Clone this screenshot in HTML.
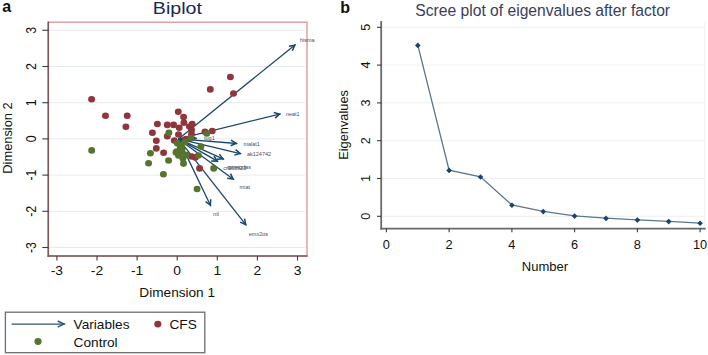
<!DOCTYPE html>
<html><head><meta charset="utf-8"><style>
html,body{margin:0;padding:0;background:#fff;}
body{width:708px;height:355px;overflow:hidden;}
svg{display:block;font-family:"Liberation Sans",sans-serif;}

</style></head><body>
<svg width="708" height="355" viewBox="0 0 708 355" fill="#111">
<rect width="708" height="355" fill="#fff"/>
<line x1="49.3" y1="247.5" x2="305" y2="247.5" stroke="rgb(229,236,238)" stroke-width="1"/>
<line x1="49.3" y1="211.3" x2="305" y2="211.3" stroke="rgb(229,236,238)" stroke-width="1"/>
<line x1="49.3" y1="175.1" x2="305" y2="175.1" stroke="rgb(229,236,238)" stroke-width="1"/>
<line x1="49.3" y1="138.9" x2="305" y2="138.9" stroke="rgb(229,236,238)" stroke-width="1"/>
<line x1="49.3" y1="102.7" x2="305" y2="102.7" stroke="rgb(229,236,238)" stroke-width="1"/>
<line x1="49.3" y1="66.5" x2="305" y2="66.5" stroke="rgb(229,236,238)" stroke-width="1"/>
<line x1="49.3" y1="30.3" x2="305" y2="30.3" stroke="rgb(229,236,238)" stroke-width="1"/>
<rect x="48.3" y="22.2" width="258.7" height="233.8" fill="none" stroke="rgb(214,150,150)" stroke-width="1.3"/>
<line x1="48.3" y1="21.599999999999998" x2="48.3" y2="257" stroke="rgb(125,88,92)" stroke-width="1.6"/>
<line x1="47.5" y1="256" x2="307.6" y2="256" stroke="rgb(125,88,92)" stroke-width="1.6"/>
<line x1="42.3" y1="247.5" x2="48.3" y2="247.5" stroke="rgb(60,60,60)" stroke-width="1.1"/>
<line x1="56.9" y1="256" x2="56.9" y2="260.6" stroke="rgb(60,60,60)" stroke-width="1.1"/>
<line x1="42.3" y1="211.3" x2="48.3" y2="211.3" stroke="rgb(60,60,60)" stroke-width="1.1"/>
<line x1="97.0" y1="256" x2="97.0" y2="260.6" stroke="rgb(60,60,60)" stroke-width="1.1"/>
<line x1="42.3" y1="175.1" x2="48.3" y2="175.1" stroke="rgb(60,60,60)" stroke-width="1.1"/>
<line x1="137.1" y1="256" x2="137.1" y2="260.6" stroke="rgb(60,60,60)" stroke-width="1.1"/>
<line x1="42.3" y1="138.9" x2="48.3" y2="138.9" stroke="rgb(60,60,60)" stroke-width="1.1"/>
<line x1="177.2" y1="256" x2="177.2" y2="260.6" stroke="rgb(60,60,60)" stroke-width="1.1"/>
<line x1="42.3" y1="102.7" x2="48.3" y2="102.7" stroke="rgb(60,60,60)" stroke-width="1.1"/>
<line x1="217.3" y1="256" x2="217.3" y2="260.6" stroke="rgb(60,60,60)" stroke-width="1.1"/>
<line x1="42.3" y1="66.5" x2="48.3" y2="66.5" stroke="rgb(60,60,60)" stroke-width="1.1"/>
<line x1="257.4" y1="256" x2="257.4" y2="260.6" stroke="rgb(60,60,60)" stroke-width="1.1"/>
<line x1="42.3" y1="30.3" x2="48.3" y2="30.3" stroke="rgb(60,60,60)" stroke-width="1.1"/>
<line x1="297.5" y1="256" x2="297.5" y2="260.6" stroke="rgb(60,60,60)" stroke-width="1.1"/>
<text transform="translate(56.9,274.8) scale(1.12,1)" text-anchor="middle" font-size="12.4">-3</text>
<text transform="translate(35.6,247.5) scale(1.12,1) rotate(-90)" text-anchor="middle" font-size="12.4">-3</text>
<text transform="translate(97.0,274.8) scale(1.12,1)" text-anchor="middle" font-size="12.4">-2</text>
<text transform="translate(35.6,211.3) scale(1.12,1) rotate(-90)" text-anchor="middle" font-size="12.4">-2</text>
<text transform="translate(137.1,274.8) scale(1.12,1)" text-anchor="middle" font-size="12.4">-1</text>
<text transform="translate(35.6,175.1) scale(1.12,1) rotate(-90)" text-anchor="middle" font-size="12.4">-1</text>
<text transform="translate(177.2,274.8) scale(1.12,1)" text-anchor="middle" font-size="12.4">0</text>
<text transform="translate(35.6,138.9) scale(1.12,1) rotate(-90)" text-anchor="middle" font-size="12.4">0</text>
<text transform="translate(217.3,274.8) scale(1.12,1)" text-anchor="middle" font-size="12.4">1</text>
<text transform="translate(35.6,102.7) scale(1.12,1) rotate(-90)" text-anchor="middle" font-size="12.4">1</text>
<text transform="translate(257.4,274.8) scale(1.12,1)" text-anchor="middle" font-size="12.4">2</text>
<text transform="translate(35.6,66.5) scale(1.12,1) rotate(-90)" text-anchor="middle" font-size="12.4">2</text>
<text transform="translate(297.5,274.8) scale(1.12,1)" text-anchor="middle" font-size="12.4">3</text>
<text transform="translate(35.6,30.3) scale(1.12,1) rotate(-90)" text-anchor="middle" font-size="12.4">3</text>
<text transform="translate(177.2,297.2) scale(1.10,1)" text-anchor="middle" font-size="12.4">Dimension 1</text>
<text transform="translate(11.5,138.0) scale(1.04,1) rotate(-90)" text-anchor="middle" font-size="12.85">Dimension 2</text>
<text transform="translate(177.4,14.0) scale(1.13,1)" text-anchor="middle" font-size="17.4" fill="rgb(32,38,82)">Biplot</text>
<text x="2.2" y="12.2" font-size="16" font-weight="bold">a</text>
<line x1="178.5" y1="138.9" x2="295.6" y2="44.5" stroke="rgb(26,71,111)" stroke-width="1.3"/><polyline points="292.4,50.7 294.7,45.2 288.9,46.3" fill="none" stroke="rgb(26,71,111)" stroke-width="1.5" stroke-linejoin="miter"/>
<line x1="178.5" y1="138.9" x2="280.6" y2="113.8" stroke="rgb(26,71,111)" stroke-width="1.3"/><polyline points="275.1,118.1 279.5,114.1 273.7,112.6" fill="none" stroke="rgb(26,71,111)" stroke-width="1.5" stroke-linejoin="miter"/>
<line x1="178.5" y1="138.9" x2="196.8" y2="138.3" stroke="rgb(26,71,111)" stroke-width="1.3"/><polyline points="190.5,141.3 195.7,138.3 190.3,135.7" fill="none" stroke="rgb(26,71,111)" stroke-width="1.5" stroke-linejoin="miter"/>
<line x1="178.5" y1="138.9" x2="237.2" y2="143.5" stroke="rgb(26,71,111)" stroke-width="1.3"/><polyline points="230.6,145.8 236.1,143.4 231.0,140.2" fill="none" stroke="rgb(26,71,111)" stroke-width="1.5" stroke-linejoin="miter"/>
<line x1="178.5" y1="138.9" x2="241.2" y2="153.8" stroke="rgb(26,71,111)" stroke-width="1.3"/><polyline points="234.3,155.1 240.1,153.5 235.6,149.6" fill="none" stroke="rgb(26,71,111)" stroke-width="1.5" stroke-linejoin="miter"/>
<line x1="178.5" y1="138.9" x2="224.0" y2="159.3" stroke="rgb(26,71,111)" stroke-width="1.3"/><polyline points="217.0,159.3 223.0,158.8 219.3,154.1" fill="none" stroke="rgb(26,71,111)" stroke-width="1.5" stroke-linejoin="miter"/>
<line x1="178.5" y1="138.9" x2="218.2" y2="161.6" stroke="rgb(26,71,111)" stroke-width="1.3"/><polyline points="211.2,160.9 217.2,161.1 214.0,156.0" fill="none" stroke="rgb(26,71,111)" stroke-width="1.5" stroke-linejoin="miter"/>
<line x1="178.5" y1="138.9" x2="234.0" y2="179.8" stroke="rgb(26,71,111)" stroke-width="1.3"/><polyline points="227.2,178.3 233.1,179.1 230.5,173.7" fill="none" stroke="rgb(26,71,111)" stroke-width="1.5" stroke-linejoin="miter"/>
<line x1="178.5" y1="138.9" x2="210.9" y2="206.2" stroke="rgb(26,71,111)" stroke-width="1.3"/><polyline points="205.6,201.7 210.4,205.2 210.7,199.2" fill="none" stroke="rgb(26,71,111)" stroke-width="1.5" stroke-linejoin="miter"/>
<line x1="178.5" y1="138.9" x2="246.3" y2="225.4" stroke="rgb(26,71,111)" stroke-width="1.3"/><polyline points="240.1,222.1 245.6,224.5 244.6,218.6" fill="none" stroke="rgb(26,71,111)" stroke-width="1.5" stroke-linejoin="miter"/>
<ellipse cx="91.6" cy="99.3" rx="3.45" ry="3.3" fill="rgb(144,53,59)"/>
<ellipse cx="105.5" cy="115.7" rx="3.45" ry="3.3" fill="rgb(144,53,59)"/>
<ellipse cx="127.2" cy="115.7" rx="3.45" ry="3.3" fill="rgb(144,53,59)"/>
<ellipse cx="125.9" cy="126.8" rx="3.45" ry="3.3" fill="rgb(144,53,59)"/>
<ellipse cx="157.4" cy="124.0" rx="3.45" ry="3.3" fill="rgb(144,53,59)"/>
<ellipse cx="152.4" cy="132.7" rx="3.45" ry="3.3" fill="rgb(144,53,59)"/>
<ellipse cx="167.3" cy="124.9" rx="3.45" ry="3.3" fill="rgb(144,53,59)"/>
<ellipse cx="173.6" cy="124.9" rx="3.45" ry="3.3" fill="rgb(144,53,59)"/>
<ellipse cx="179.2" cy="127.7" rx="3.45" ry="3.3" fill="rgb(144,53,59)"/>
<ellipse cx="178.3" cy="111.8" rx="3.45" ry="3.3" fill="rgb(144,53,59)"/>
<ellipse cx="183.6" cy="117.1" rx="3.45" ry="3.3" fill="rgb(144,53,59)"/>
<ellipse cx="183.9" cy="122.7" rx="3.45" ry="3.3" fill="rgb(144,53,59)"/>
<ellipse cx="192.2" cy="124.0" rx="3.45" ry="3.3" fill="rgb(144,53,59)"/>
<ellipse cx="189.4" cy="126.5" rx="3.45" ry="3.3" fill="rgb(144,53,59)"/>
<ellipse cx="191.5" cy="129.9" rx="3.45" ry="3.3" fill="rgb(144,53,59)"/>
<ellipse cx="191.5" cy="134.3" rx="3.45" ry="3.3" fill="rgb(144,53,59)"/>
<ellipse cx="178.5" cy="134.5" rx="3.45" ry="3.3" fill="rgb(144,53,59)"/>
<ellipse cx="167.3" cy="136.2" rx="3.45" ry="3.3" fill="rgb(144,53,59)"/>
<ellipse cx="156.3" cy="140.8" rx="3.45" ry="3.3" fill="rgb(144,53,59)"/>
<ellipse cx="156.3" cy="148.4" rx="3.45" ry="3.3" fill="rgb(144,53,59)"/>
<ellipse cx="163.6" cy="152.7" rx="3.45" ry="3.3" fill="rgb(144,53,59)"/>
<ellipse cx="174.3" cy="140.5" rx="3.45" ry="3.3" fill="rgb(144,53,59)"/>
<ellipse cx="205" cy="131.8" rx="3.45" ry="3.3" fill="rgb(144,53,59)"/>
<ellipse cx="212.2" cy="131" rx="3.45" ry="3.3" fill="rgb(144,53,59)"/>
<ellipse cx="210.3" cy="89.4" rx="3.45" ry="3.3" fill="rgb(144,53,59)"/>
<ellipse cx="230.4" cy="77" rx="3.45" ry="3.3" fill="rgb(144,53,59)"/>
<ellipse cx="233.5" cy="93.5" rx="3.45" ry="3.3" fill="rgb(144,53,59)"/>
<ellipse cx="191.6" cy="156.5" rx="3.45" ry="3.3" fill="rgb(144,53,59)"/>
<ellipse cx="195.3" cy="157.4" rx="3.45" ry="3.3" fill="rgb(144,53,59)"/>
<ellipse cx="199.6" cy="168.4" rx="3.45" ry="3.3" fill="rgb(144,53,59)"/>
<ellipse cx="186" cy="139" rx="3.45" ry="3.3" fill="rgb(144,53,59)"/>
<ellipse cx="91.7" cy="150.4" rx="3.45" ry="3.3" fill="rgb(85,117,47)"/>
<ellipse cx="168.9" cy="132.7" rx="3.45" ry="3.3" fill="rgb(85,117,47)"/>
<ellipse cx="150.4" cy="153.2" rx="3.45" ry="3.3" fill="rgb(85,117,47)"/>
<ellipse cx="148.6" cy="163.2" rx="3.45" ry="3.3" fill="rgb(85,117,47)"/>
<ellipse cx="168.6" cy="160.5" rx="3.45" ry="3.3" fill="rgb(85,117,47)"/>
<ellipse cx="163.4" cy="174.3" rx="3.45" ry="3.3" fill="rgb(85,117,47)"/>
<ellipse cx="197.1" cy="189" rx="3.45" ry="3.3" fill="rgb(85,117,47)"/>
<ellipse cx="213.7" cy="168.4" rx="3.45" ry="3.3" fill="rgb(85,117,47)"/>
<ellipse cx="200.9" cy="146.6" rx="3.45" ry="3.3" fill="rgb(85,117,47)"/>
<ellipse cx="198.4" cy="155.5" rx="3.45" ry="3.3" fill="rgb(85,117,47)"/>
<ellipse cx="206.8" cy="133.5" rx="3.45" ry="3.3" fill="rgb(85,117,47)"/>
<ellipse cx="177.3" cy="143.3" rx="3.45" ry="3.3" fill="rgb(85,117,47)"/>
<ellipse cx="184.8" cy="142.3" rx="3.45" ry="3.3" fill="rgb(85,117,47)"/>
<ellipse cx="191" cy="138" rx="3.45" ry="3.3" fill="rgb(85,117,47)"/>
<ellipse cx="180.4" cy="147.9" rx="3.45" ry="3.3" fill="rgb(85,117,47)"/>
<ellipse cx="176.7" cy="151.6" rx="3.45" ry="3.3" fill="rgb(85,117,47)"/>
<ellipse cx="176" cy="152.4" rx="3.45" ry="3.3" fill="rgb(85,117,47)"/>
<ellipse cx="178.5" cy="155.5" rx="3.45" ry="3.3" fill="rgb(85,117,47)"/>
<ellipse cx="182.9" cy="158.6" rx="3.45" ry="3.3" fill="rgb(85,117,47)"/>
<ellipse cx="183.5" cy="163.6" rx="3.45" ry="3.3" fill="rgb(85,117,47)"/>
<ellipse cx="179.8" cy="145" rx="3.45" ry="3.3" fill="rgb(85,117,47)"/>
<ellipse cx="182.2" cy="148.7" rx="3.45" ry="3.3" fill="rgb(85,117,47)"/>
<ellipse cx="186" cy="154.9" rx="3.45" ry="3.3" fill="rgb(85,117,47)"/>
<ellipse cx="181.5" cy="152.2" rx="3.45" ry="3.3" fill="rgb(85,117,47)"/>
<text x="300" y="41.8" font-size="5.5" fill="rgb(70,80,100)">hisma</text>
<text x="285.9" y="116" font-size="5.5" fill="rgb(70,80,100)">neat1</text>
<text x="204" y="139.9" font-size="5.5" fill="rgb(70,80,100)">tug1</text>
<text x="243.4" y="146" font-size="5.5" fill="rgb(70,80,100)">malat1</text>
<text x="246.9" y="156.2" font-size="5.5" fill="rgb(70,80,100)">ak124742</text>
<text x="227.2" y="168.6" font-size="5.5" fill="rgb(70,80,100)">gpseqdas</text>
<text x="223.3" y="169.6" font-size="5.5" fill="rgb(70,80,100)">cr963923</text>
<text x="239.6" y="189.2" font-size="5.5" fill="rgb(70,80,100)">miat</text>
<text x="213.1" y="216.4" font-size="5.5" fill="rgb(70,80,100)">ntl</text>
<text x="248.8" y="235.9" font-size="5.5" fill="rgb(70,80,100)">emx2os</text>
<rect x="5.4" y="312.2" width="199.4" height="40.5" fill="none" stroke="rgb(110,110,110)" stroke-width="1.3"/>
<line x1="11.6" y1="324.1" x2="65.1" y2="324.1" stroke="rgb(45,85,120)" stroke-width="1.2"/><polyline points="57.7,327.2 64.0,324.1 57.7,321.0" fill="none" stroke="rgb(45,85,120)" stroke-width="1.4" stroke-linejoin="miter"/>
<ellipse cx="157.8" cy="324.1" rx="3.6" ry="3.4" fill="rgb(144,53,59)"/>
<ellipse cx="38" cy="341.5" rx="3.6" ry="3.4" fill="rgb(85,117,47)"/>
<text transform="translate(73.6,328.6) scale(1.12,1)" font-size="12.2">Variables</text>
<text transform="translate(169.5,328.6) scale(1.12,1)" font-size="12.2">CFS</text>
<text transform="translate(73.6,346.6) scale(1.12,1)" font-size="12.2">Control</text>
<line x1="382.2" y1="216.3" x2="705.7" y2="216.3" stroke="rgb(236,240,243)" stroke-width="1"/>
<line x1="382.2" y1="178.5" x2="705.7" y2="178.5" stroke="rgb(236,240,243)" stroke-width="1"/>
<line x1="382.2" y1="140.7" x2="705.7" y2="140.7" stroke="rgb(236,240,243)" stroke-width="1"/>
<line x1="382.2" y1="102.9" x2="705.7" y2="102.9" stroke="rgb(236,240,243)" stroke-width="1"/>
<line x1="382.2" y1="65.1" x2="705.7" y2="65.1" stroke="rgb(236,240,243)" stroke-width="1"/>
<line x1="382.2" y1="27.3" x2="705.7" y2="27.3" stroke="rgb(236,240,243)" stroke-width="1"/>
<line x1="704.6" y1="22" x2="704.6" y2="228" stroke="rgb(240,243,245)" stroke-width="1"/>
<line x1="381.2" y1="21" x2="381.2" y2="229.6" stroke="rgb(105,105,105)" stroke-width="1.8"/>
<line x1="380.3" y1="228.6" x2="705.8" y2="228.6" stroke="rgb(105,105,105)" stroke-width="1.8"/>
<line x1="377" y1="216.3" x2="381.2" y2="216.3" stroke="rgb(60,60,60)" stroke-width="1.1"/>
<text transform="translate(370.3,216.3) rotate(-90)" text-anchor="middle" font-size="12.6">0</text>
<line x1="377" y1="178.5" x2="381.2" y2="178.5" stroke="rgb(60,60,60)" stroke-width="1.1"/>
<text transform="translate(370.3,178.5) rotate(-90)" text-anchor="middle" font-size="12.6">1</text>
<line x1="377" y1="140.7" x2="381.2" y2="140.7" stroke="rgb(60,60,60)" stroke-width="1.1"/>
<text transform="translate(370.3,140.7) rotate(-90)" text-anchor="middle" font-size="12.6">2</text>
<line x1="377" y1="102.9" x2="381.2" y2="102.9" stroke="rgb(60,60,60)" stroke-width="1.1"/>
<text transform="translate(370.3,102.9) rotate(-90)" text-anchor="middle" font-size="12.6">3</text>
<line x1="377" y1="65.1" x2="381.2" y2="65.1" stroke="rgb(60,60,60)" stroke-width="1.1"/>
<text transform="translate(370.3,65.1) rotate(-90)" text-anchor="middle" font-size="12.6">4</text>
<line x1="377" y1="27.3" x2="381.2" y2="27.3" stroke="rgb(60,60,60)" stroke-width="1.1"/>
<text transform="translate(370.3,27.3) rotate(-90)" text-anchor="middle" font-size="12.6">5</text>
<line x1="386.4" y1="228.6" x2="386.4" y2="232.3" stroke="rgb(60,60,60)" stroke-width="1.1"/>
<text transform="translate(386.4,249.1) scale(0.97,1)" text-anchor="middle" font-size="13.2">0</text>
<line x1="449.1" y1="228.6" x2="449.1" y2="232.3" stroke="rgb(60,60,60)" stroke-width="1.1"/>
<text transform="translate(449.1,249.1) scale(0.97,1)" text-anchor="middle" font-size="13.2">2</text>
<line x1="511.9" y1="228.6" x2="511.9" y2="232.3" stroke="rgb(60,60,60)" stroke-width="1.1"/>
<text transform="translate(511.9,249.1) scale(0.97,1)" text-anchor="middle" font-size="13.2">4</text>
<line x1="574.6" y1="228.6" x2="574.6" y2="232.3" stroke="rgb(60,60,60)" stroke-width="1.1"/>
<text transform="translate(574.6,249.1) scale(0.97,1)" text-anchor="middle" font-size="13.2">6</text>
<line x1="637.4" y1="228.6" x2="637.4" y2="232.3" stroke="rgb(60,60,60)" stroke-width="1.1"/>
<text transform="translate(637.4,249.1) scale(0.97,1)" text-anchor="middle" font-size="13.2">8</text>
<line x1="700.1" y1="228.6" x2="700.1" y2="232.3" stroke="rgb(60,60,60)" stroke-width="1.1"/>
<text transform="translate(700.1,249.1) scale(0.97,1)" text-anchor="middle" font-size="13.2">10</text>
<text transform="translate(544.9,270.6) scale(0.965,1)" text-anchor="middle" font-size="13.5">Number</text>
<text transform="translate(347.8,124.9) rotate(-90)" text-anchor="middle" font-size="12.8">Eigenvalues</text>
<text x="542.7" y="15.9" text-anchor="middle" font-size="15.65" fill="rgb(55,64,90)">Scree plot of eigenvalues after factor</text>
<text x="340.3" y="12.7" font-size="16" font-weight="bold">b</text>
<polyline points="417.8,45.2 449.1,170.2 480.5,176.8 511.9,205.0 543.2,211.4 574.6,215.9 606.0,218.2 637.4,219.9 668.7,221.4 700.1,223.1" fill="none" stroke="rgb(92,118,142)" stroke-width="1.3"/>
<polygon points="417.8,42.6 420.6,45.4 417.8,48.2 415.0,45.4" fill="rgb(26,66,106)"/>
<polygon points="449.1,167.6 451.9,170.4 449.1,173.2 446.3,170.4" fill="rgb(26,66,106)"/>
<polygon points="480.5,174.2 483.3,177.0 480.5,179.8 477.7,177.0" fill="rgb(26,66,106)"/>
<polygon points="511.9,202.4 514.7,205.2 511.9,208.0 509.1,205.2" fill="rgb(26,66,106)"/>
<polygon points="543.2,208.8 546.0,211.6 543.2,214.4 540.5,211.6" fill="rgb(26,66,106)"/>
<polygon points="574.6,213.3 577.4,216.1 574.6,218.9 571.8,216.1" fill="rgb(26,66,106)"/>
<polygon points="606.0,215.6 608.8,218.4 606.0,221.2 603.2,218.4" fill="rgb(26,66,106)"/>
<polygon points="637.4,217.3 640.2,220.1 637.4,222.9 634.6,220.1" fill="rgb(26,66,106)"/>
<polygon points="668.7,218.8 671.5,221.6 668.7,224.4 665.9,221.6" fill="rgb(26,66,106)"/>
<polygon points="700.1,220.5 702.9,223.3 700.1,226.1 697.3,223.3" fill="rgb(26,66,106)"/>
</svg>
</body></html>
